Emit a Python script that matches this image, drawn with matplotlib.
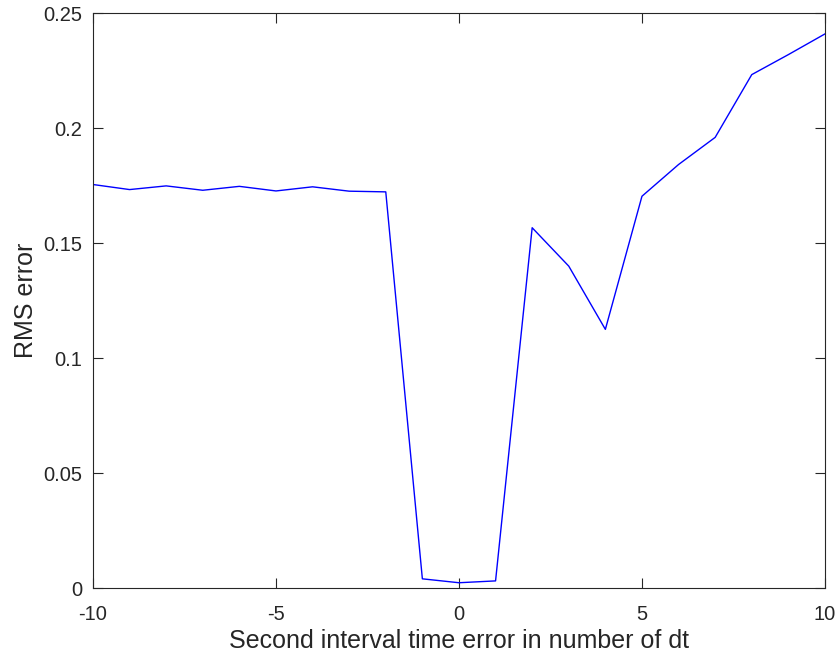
import numpy as np
import matplotlib.pyplot as plt

plt.rcParams['font.family'] = ['Liberation Sans', 'DejaVu Sans']

# offset in dt and the resulting RMS error
offsets = np.arange(-10, 11)
rms_error = [0.1755, 0.1733, 0.1749, 0.1730, 0.1747, 0.1727, 0.1745, 0.1726, 0.1723,
             0.0040, 0.0023, 0.0031,
             0.1567, 0.1400, 0.1125, 0.1704, 0.1842, 0.1960, 0.2233, 0.2320, 0.2410]

x_ticks = [-10, -5, 0, 5, 10]
y_ticks = [0, 0.05, 0.1, 0.15, 0.2, 0.25]
y_labels = ['0', '0.05', '0.1', '0.15', '0.2', '0.25']

dark = (0.15, 0.15, 0.15)

fig = plt.figure(figsize=(8.36, 6.61), dpi=100)
ax = fig.add_axes([0.1112, 0.1104, 0.8756, 0.8696])

ax.plot(offsets, rms_error, color=(0, 0, 1), linewidth=1.0)

ax.set_xlim(-10, 10)
ax.set_ylim(0, 0.25)
ax.set_xticks(x_ticks)
ax.set_xticklabels([str(t) for t in x_ticks])
ax.set_yticks(y_ticks)
ax.set_yticklabels(y_labels)

# matlab-ish box: ticks inside on all four sides
ax.tick_params(direction='in', length=7, width=0.8, top=True, right=True,
               labelsize=14.5, colors=dark)
ax.tick_params(axis='x', pad=12)
ax.tick_params(axis='y', pad=7.5)
for side in ax.spines.values():
    side.set_color(dark)
    side.set_linewidth(0.8)

ax.set_xlabel('Second interval time error in number of dt', fontsize=18,
              color=dark, labelpad=4)
ax.set_ylabel('RMS error', fontsize=18, color=dark, labelpad=4)

fig.savefig('out.png', dpi=100)
